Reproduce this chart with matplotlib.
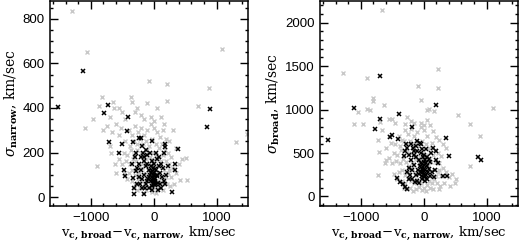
import matplotlib
matplotlib.use("Agg")
import matplotlib.pyplot as plt
from matplotlib.ticker import MultipleLocator

# grey objects, left panel: (v_c,broad - v_c,narrow, sigma_narrow)
grey_left = [
    (-1300, 837), (-1056, 649), (1094, 665), (-69, 520), (219, 508), (880, 491),
    (-826, 451), (-368, 450), (-645, 426), (-346, 427), (-106, 424), (208, 433),
    (704, 410), (-869, 408), (-624, 401), (1310, 245), (1490, 281),
    (-400, 300), (-350, 280), (-300, 320), (-250, 290), (-200, 310), (-150, 280),
    (-100, 300), (-50, 330), (0, 310), (50, 290), (100, 270), (150, 300), (200, 260),
    (-450, 250), (-380, 230), (-320, 250), (-270, 240), (-220, 260), (-170, 240),
    (-120, 250), (-70, 230), (-20, 260), (30, 240), (80, 220), (130, 240), (180, 210),
    (230, 200), (280, 180), (-480, 200), (-420, 190), (-360, 210), (-310, 190),
    (-260, 210), (-210, 200), (-160, 190), (-110, 210), (-60, 180), (-10, 200),
    (40, 190), (90, 170), (140, 190), (190, 160), (240, 150), (300, 130), (-500, 150),
    (-440, 160), (-380, 150), (-330, 170), (-280, 160), (-230, 140), (-180, 150),
    (-130, 170), (-80, 150), (-30, 170), (20, 160), (70, 140), (120, 160), (170, 120),
    (220, 110), (270, 90), (-400, 110), (-340, 120), (-290, 100), (-240, 110),
    (-190, 130), (-140, 110), (-90, 120), (-40, 140), (10, 130), (60, 110), (110, 90),
    (160, 80), (210, 60), (260, 50), (-350, 70), (-300, 60), (-250, 80), (-200, 70),
    (-150, 60), (-100, 80), (-50, 60), (0, 40), (50, 50), (100, 40), (150, 30),
    (-320, 40), (-270, 30), (-220, 40), (-170, 20), (-120, 30), (-70, 45), (-20, 25),
    (30, 20), (80, 70), (130, 60), (190, 90), (240, 120), (350, 110), (400, 150),
    (450, 170), (520, 176), (416, 75), (534, 75), (-560, 280), (-600, 330), (-520, 310),
    (-660, 290), (-700, 230), (-672, 198), (-602, 110), (-550, 170), (-620, 150),
    (-750, 320), (-800, 300), (-960, 350), (-1100, 310), (-906, 140), (-500, 380),
    (-450, 350), (-300, 380), (-200, 370), (-150, 350), (-40, 360), (0, 340), (123, 361),
    (160, 330), (60, 400), (-260, 400), (-560, 400), (-700, 360), (300, 300), (250, 250),
    (350, 220), (320, 60), (-420, 80), (-480, 110),
]

# grey objects, right panel: (v_c,broad - v_c,narrow, sigma_broad)
grey_right = [
    (-670, 2142), (-1280, 1423), (-896, 1362), (224, 1469), (235, 1243), (-96, 1269),
    (-48, 1108), (-800, 1136), (-800, 1100), (-624, 1058), (-896, 1004), (-848, 990),
    (-1040, 969), (-501, 896), (54, 996), (91, 1012), (166, 989), (539, 943),
    (741, 833), (896, 691), (1110, 1023), (1500, 543), (736, 356), (-1109, 829),
    (-560, 888), (-720, 650), (-709, 511), (-730, 246),
    (-400, 700), (-350, 650), (-300, 760), (-250, 720), (-200, 780), (-150, 700),
    (-100, 740), (-50, 800), (0, 760), (50, 700), (100, 820), (150, 750), (200, 680),
    (-450, 600), (-380, 580), (-320, 640), (-270, 600), (-220, 640), (-170, 600),
    (-120, 620), (-70, 580), (-20, 640), (30, 600), (80, 560), (130, 620), (180, 540),
    (230, 500), (280, 460), (-480, 500), (-420, 480), (-360, 540), (-310, 480),
    (-260, 520), (-210, 500), (-160, 470), (-110, 520), (-60, 450), (-10, 500),
    (40, 480), (90, 430), (140, 480), (190, 400), (240, 380), (300, 330), (-500, 380),
    (-440, 410), (-380, 380), (-330, 430), (-280, 400), (-230, 350), (-180, 380),
    (-130, 430), (-80, 380), (-30, 430), (20, 400), (70, 350), (120, 400), (170, 300),
    (220, 280), (270, 230), (-400, 280), (-340, 300), (-290, 250), (-240, 280),
    (-190, 330), (-140, 280), (-90, 300), (-40, 350), (10, 330), (60, 280), (110, 230),
    (160, 200), (210, 150), (260, 120), (-350, 180), (-300, 150), (-250, 200),
    (-200, 180), (-150, 150), (-100, 200), (-50, 150), (0, 100), (50, 130), (100, 100),
    (150, 80), (-320, 100), (-270, 80), (-220, 100), (-170, 60), (-120, 80), (-70, 110),
    (-20, 70), (30, 60), (80, 180), (130, 150), (190, 230), (240, 300), (350, 280),
    (400, 220), (450, 260), (520, 200), (420, 120), (500, 150), (250, 80),
    (-560, 700), (-600, 560), (-520, 620), (-660, 760), (-602, 420), (-550, 440),
    (-620, 380), (-960, 830), (-450, 850), (-300, 830), (-200, 870), (-150, 840),
    (-40, 850), (0, 820), (60, 880), (-260, 920), (-700, 860), (300, 600), (250, 650),
    (350, 560), (320, 150), (-420, 200), (-480, 260),
]

# black objects, left panel
black_left = [
    (-1520, 405), (-1125, 567), (-720, 413), (-790, 376), (-704, 245), (-405, 360),
    (-426, 298), (-506, 239), (-549, 198), (-336, 245), (-240, 266), (-202, 266),
    (-26, 251), (176, 239), (176, 224), (390, 215), (336, 150), (336, 120), (283, 21),
    (843, 316), (896, 397), (-453, 93), (-320, 42), (-314, 15), (-336, 87), (-288, 116),
    (-160, 12), (-192, 39), (-32, 30), (64, 30), (112, 42), (-341, 147), (171, 196),
    (-470, 120),
    (-120, 60), (-90, 80), (-60, 100), (-40, 70), (-20, 90), (0, 110), (-10, 130),
    (20, 80), (40, 60), (-80, 120), (-50, 140), (-30, 160), (10, 150), (30, 120),
    (60, 100), (80, 140), (100, 110), (-150, 180), (-170, 200), (-200, 180), (-120, 210),
    (-100, 190), (-60, 200), (-230, 150), (-260, 130), (-200, 120), (-150, 100),
    (-180, 80), (-220, 60), (-240, 90), (-130, 140), (-160, 160), (50, 170), (90, 180),
    (120, 150), (150, 130), (130, 90), (160, 70), (200, 100), (220, 140), (180, 60),
    (-20, 50), (0, 60), (20, 70), (-40, 110), (-70, 90), (-100, 70), (10, 100),
    (-5, 85), (15, 125), (-25, 115), (45, 95), (70, 65), (-140, 40), (-260, 60),
    (-300, 180), (-280, 200), (-110, 150), (-190, 230), (30, 200), (-80, 40),
    (100, 60), (-5, 70), (5, 95), (-15, 60), (25, 55),
]

# black objects, right panel
black_right = [
    (-1517, 650), (-1109, 1019), (-693, 1388), (-773, 781), (-688, 888), (-394, 946),
    (-501, 707), (-544, 684), (-410, 658), (-192, 796), (192, 1054), (358, 669),
    (406, 465), (864, 453), (907, 415), (310, 239), (363, 239), (-432, 208),
    (-384, 162), (-330, 138), (-293, 107), (-266, 84),
    (-120, 250), (-90, 300), (-60, 350), (-40, 280), (-20, 320), (0, 400), (-10, 450),
    (20, 300), (40, 250), (-80, 420), (-50, 500), (-30, 550), (10, 480), (30, 380),
    (60, 350), (80, 430), (100, 400), (-150, 520), (-170, 560), (-200, 600),
    (-120, 580), (-100, 520), (-60, 620), (-230, 480), (-260, 560), (-200, 420),
    (-150, 360), (-180, 300), (-220, 250), (-240, 200), (-130, 450), (-160, 480),
    (50, 450), (90, 320), (120, 500), (150, 560), (130, 280), (160, 220), (200, 420),
    (220, 380), (180, 300), (-20, 200), (0, 220), (20, 180), (-40, 380), (-70, 260),
    (-100, 180), (10, 260), (-5, 340), (15, 420), (-25, 240), (45, 200), (70, 280),
    (-140, 170), (-270, 280), (-300, 520), (-280, 600), (-320, 460), (-50, 600),
    (200, 520), (-110, 640), (-190, 200), (-230, 330), (30, 550), (-80, 160),
    (100, 230), (-5, 300), (5, 360), (-15, 280), (25, 230),
]

plt.rcParams["mathtext.fontset"] = "dejavuserif"
tick_font = "Liberation Sans"
label_font = "DejaVu Serif"

fig = plt.figure(figsize=(5.2, 2.42), dpi=100)
ax1 = fig.add_axes([50 / 520, 36 / 242, 198 / 520, 205 / 242])
ax2 = fig.add_axes([320 / 520, 36 / 242, 198 / 520, 205 / 242])

panels = [
    (ax1, grey_left, black_left, (-40, 880), 200, 50, r"$\sigma_{\mathbf{narrow}}$, km/sec"),
    (ax2, grey_right, black_right, (-110, 2250), 500, 100, r"$\sigma_{\mathbf{broad}}$, km/sec"),
]

for ax, grey, black, ylim, ymaj, ymin, ylab in panels:
    gx, gy = zip(*grey)
    bx, by = zip(*black)
    ax.plot(gx, gy, "x", color="#c8c8c8", ms=3.2, mew=1.0, ls="none")
    ax.plot(bx, by, "x", color="black", ms=3.2, mew=1.1, ls="none")
    ax.set_xlim(-1650, 1500)
    ax.set_ylim(*ylim)
    ax.xaxis.set_major_locator(MultipleLocator(1000))
    ax.xaxis.set_minor_locator(MultipleLocator(200))
    ax.yaxis.set_major_locator(MultipleLocator(ymaj))
    ax.yaxis.set_minor_locator(MultipleLocator(ymin))
    ax.tick_params(which="both", direction="in", top=True, right=True, width=1.0)
    ax.tick_params(which="major", length=5.5, labelsize=9.5, pad=4)
    ax.tick_params(which="minor", length=2.5)
    for lab in ax.get_xticklabels() + ax.get_yticklabels():
        lab.set_fontfamily(tick_font)
    for sp in ax.spines.values():
        sp.set_linewidth(1.1)
    ax.set_xlabel(r"$\mathrm{v}_{\mathbf{c,\,broad}}\!-\!\mathrm{v}_{\mathbf{c,\,narrow}}$, km/sec",
                  fontfamily=label_font, fontsize=9.5, labelpad=1)
    ax.set_ylabel(ylab, fontfamily=label_font, fontsize=10, labelpad=2)

fig.savefig("out.png", dpi=100)
